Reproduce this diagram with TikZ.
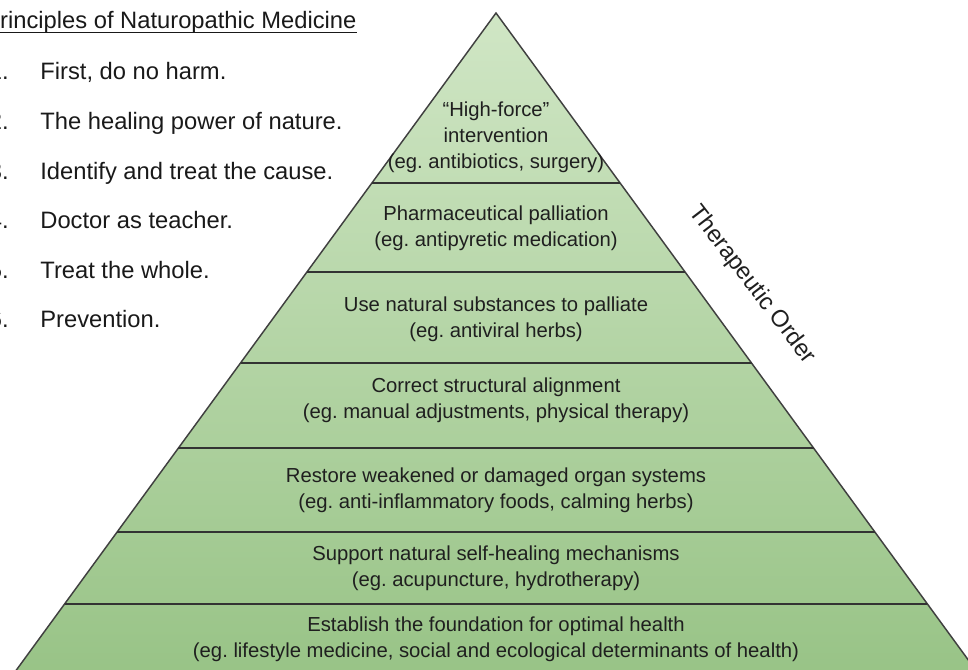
\documentclass[tikz,border=0pt]{standalone}
\usepackage{fontspec}
\setmainfont{Liberation Sans}
\usetikzlibrary{calc}
\definecolor{pyrtop}{RGB}{208,230,197}
\definecolor{pyrbot}{RGB}{150,194,132}
\frenchspacing

\begin{document}
\begin{tikzpicture}[x=0.75pt, y=-0.75pt, semithick]
    \tikzstyle{band}=[align=center, inner sep=0pt, text=black!88, font=\fontsize{15.2}{19.4}\selectfont]
    \tikzstyle{item}=[anchor=base west, inner sep=0pt, text=black!90, font=\fontsize{17.8}{21}\selectfont]
    \tikzstyle{num}=[item, anchor=base east]
    \tikzstyle{divider}=[draw=black!80, line width=1.3pt]
    \tikzstyle{side}=[draw=black!75, line width=1.1pt]
    \clip (0,0) rectangle (968,670);
    % pyramid outline, bottom corners below the page
    \coordinate (apex) at (496,13);
    \coordinate (bl)   at ({496-0.73*(700-13)},700);
    \coordinate (br)   at ({496+0.73*(700-13)},700);
    \shade[top color=pyrtop, bottom color=pyrbot] (apex) -- (bl) -- (br) -- cycle;
    \draw[side] (bl) -- (apex) -- (br);
    % band dividers
    \foreach \y [count=\i] in {183,272,363,448,532,604} {
      \coordinate (l\i) at ({496-0.73*(\y-13)},\y);
      \coordinate (r\i) at ({496+0.73*(\y-13)},\y);
      \draw[divider] (l\i) -- (r\i);
    }
    % band texts, top to bottom
    \node[band] (force)   at (496,137) {“High-force”\\intervention\\(eg. antibiotics, surgery)};
    \node[band] (pharma)  at (496,228) {Pharmaceutical palliation\\(eg. antipyretic medication)};
    \node[band] (natural) at (496,319) {Use natural substances to palliate\\(eg. antiviral herbs)};
    \node[band] (struct)  at (496,400) {Correct structural alignment\\(eg. manual adjustments, physical therapy)};
    \node[band] (organ)   at (496,490) {Restore weakened or damaged organ systems\\(eg. anti-inflammatory foods, calming herbs)};
    \node[band] (heal)    at (496,568) {Support natural self-healing mechanisms\\(eg. acupuncture, hydrotherapy)};
    \node[band] (found)   at (496,639) {Establish the foundation for optimal health\\(eg. lifestyle medicine, social and ecological determinants of health)};
    % side label
    \node[band, font=\fontsize{17.8}{21}\selectfont, rotate=-52.5] (order) at (752,285) {Therapeutic Order};
    % principles list
    \node[item] (title) at (-16,29) {Principles of Naturopathic Medicine};
    \draw[black!90, line width=0.9pt] ([yshift=-2.6pt]title.base west) -- ([yshift=-2.6pt]title.base east);
    \foreach \t [count=\i] in {{First, do no harm.},{The healing power of nature.},{Identify and treat the cause.},{Doctor as teacher.},{Treat the whole.},{Prevention.}} {
      \node[num]  (n\i) at (9,{80+49.6*(\i-1)}) {\i.};
      \node[item] (p\i) at (40,{80+49.6*(\i-1)}) {\t};
    }
\end{tikzpicture}
\end{document}
